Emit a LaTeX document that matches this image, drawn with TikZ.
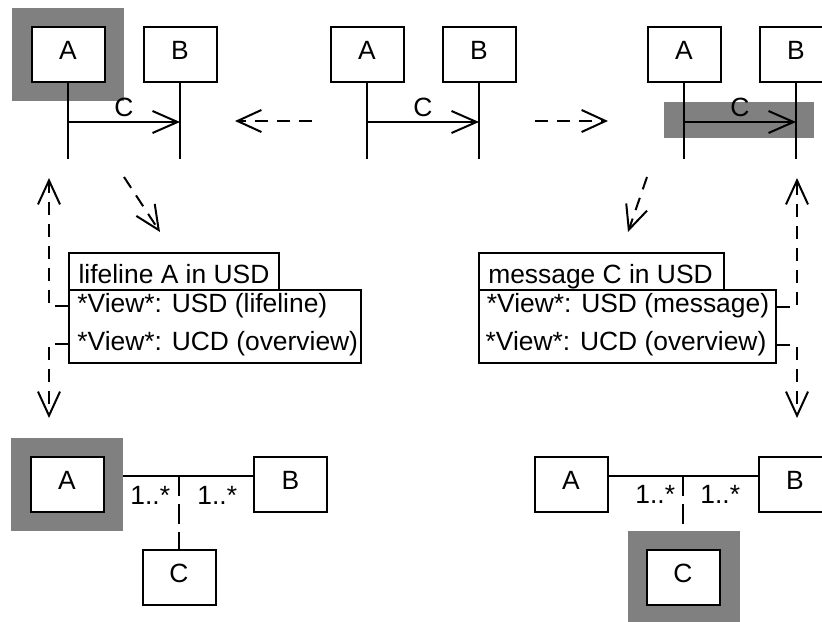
\documentclass[tikz,border=0pt]{standalone}
\usepackage{fontspec}
\setmainfont{Liberation Sans}
\usetikzlibrary{arrows.meta,calc}
\definecolor{hlgrey}{RGB}{128,128,128}
\begin{document}
\begin{tikzpicture}[x=0.5pt,y=-0.5pt,
  every node/.style={font=\fontsize{13.2}{15.8}\selectfont},
  box/.style={draw, line width=1pt, fill=white, minimum width=36.5pt,
    minimum height=27.5pt, inner sep=0pt, text depth=3.8pt},
  hl/.style={fill=hlgrey, draw=none, minimum width=56pt, minimum height=46.5pt, inner sep=0pt},
  life/.style={line width=1pt},
  msg/.style={line width=1pt, -{Straight Barb[length=12.5pt,width=11pt]}},
  dep/.style={line width=1pt, dash pattern=on 6.5pt off 4.5pt,
    -{Straight Barb[length=12pt,width=11pt]}},
  acls/.style={line width=1pt, dash pattern=on 10pt off 4pt},
  assoc/.style={line width=1pt},
  notebox/.style={draw, fill=white, line width=1pt, inner sep=0pt, anchor=north west},
  mult/.style={anchor=base west, inner sep=0pt}
]
\useasboundingbox (0,0) rectangle (822,621);
\clip (0,0) rectangle (822,621);

% ---------- sequence diagram, lifeline A selected ----------
\node[hl] (hlA1) at (68,54.5) {};
\node[box] (sA1) at (68,54.5) {A};
\node[box] (sB1) at (180,54.5) {B};
\draw[life] (sA1.south) -- ++(0,76);
\draw[life] (sB1.south) -- ++(0,76);
\draw[msg] ($(sA1.south)+(0,39)$) -- ($(sB1.south)+(0,39)$);
\node[anchor=base, inner sep=0pt] (cm1) at ($(sA1.south)!0.5!(sB1.south)+(0,33)$) {C};

% ---------- sequence diagram, nothing selected ----------
\node[box] (sA2) at (367,54.5) {A};
\node[box] (sB2) at (479,54.5) {B};
\draw[life] (sA2.south) -- ++(0,76);
\draw[life] (sB2.south) -- ++(0,76);
\draw[msg] ($(sA2.south)+(0,39)$) -- ($(sB2.south)+(0,39)$);
\node[anchor=base, inner sep=0pt] (cm2) at ($(sA2.south)!0.5!(sB2.south)+(0,33)$) {C};

% ---------- sequence diagram, message C selected ----------
\node[hl, minimum width=75pt, minimum height=18pt] (hlC1) at (739,120) {};
\node[box] (sA3) at (684,54.5) {A};
\node[box] (sB3) at (796,54.5) {B};
\draw[life] (sA3.south) -- ++(0,76);
\draw[life] (sB3.south) -- ++(0,76);
\draw[msg] ($(sA3.south)+(0,39)$) -- ($(sB3.south)+(0,39)$);
\node[anchor=base, inner sep=0pt] (cm3) at ($(sA3.south)!0.5!(sB3.south)+(0,33)$) {C};

% ---------- transitions between the sequence diagrams ----------
\coordinate (t1s) at (312,121);
\coordinate (t1e) at (235,121);
\coordinate (t2s) at (535,121);
\coordinate (t2e) at (608,121);
\draw[dep] (t1s) -- (t1e);
\draw[dep] (t2s) -- (t2e);

% ---------- view notes ----------
\node[notebox, minimum width=105pt, minimum height=18.5pt] (tab1) at (68,252) {};
\node[anchor=base, inner sep=0pt] (tab1t) at (174,283) {lifeline A in USD};
\node[notebox, minimum width=146pt, minimum height=36.5pt] (note1) at (68,289) {};
\node[anchor=base west, inner sep=0pt] (n1a) at (77,312) {*View*: USD (lifeline)};
\node[anchor=base west, inner sep=0pt] (n1b) at (77,350) {*View*: UCD (overview)};

\node[notebox, minimum width=122.5pt, minimum height=18.5pt] (tab2) at (478,252) {};
\node[anchor=base, inner sep=0pt] (tab2t) at (600.5,283) {message C in USD};
\node[notebox, minimum width=148.5pt, minimum height=36.5pt] (note2) at (478,289) {};
\node[anchor=base, inner sep=0pt] (n2a) at (628,312) {*View*: USD (message)};
\node[anchor=base, inner sep=0pt] (n2b) at (626,350) {*View*: UCD (overview)};

% ---------- navigation connectors ----------
\coordinate (d1s) at (124,177);
\coordinate (d1e) at (160,232);
\coordinate (d2s) at (647,177);
\coordinate (d2e) at (628,232);
\draw[dep] (d1s) -- (d1e);
\draw[dep] (d2s) -- (d2e);

\coordinate (up1) at (49,178);
\coordinate (dn1) at (49,418);
\coordinate (up2) at (797,178);
\coordinate (dn2) at (797,418);
\draw[dep] ($(note1.north west)+(0,17)$) -| (up1);
\draw[dep] ($(note1.north west)+(0,55)$) -| (dn1);
\draw[dep] ($(note2.north east)+(0,18)$) -| (up2);
\draw[dep] ($(note2.north east)+(0,56)$) -| (dn2);

% ---------- class diagram, class A selected ----------
\node[hl] (hlA2) at (67,484.5) {};
\node[box] (cA1) at (67,484) {A};
\node[box] (cB1) at (290.5,484) {B};
\node[box] (cC1) at (179,577.5) {C};
\coordinate (j1) at (179,476);
\draw[assoc] (hlA2.east |- j1) -- (cB1.west |- j1);
\draw[acls] (j1) -- (cC1.north);
\node[mult] (m1a) at (130,504) {1..*};
\node[mult] (m1b) at (197,504) {1..*};

% ---------- class diagram, association class C selected ----------
\node[box] (cA2) at (571,484) {A};
\node[box] (cB2) at (795,484) {B};
\node[hl] (hlC2) at (683.5,577.5) {};
\node[box] (cC2) at (683,577.5) {C};
\coordinate (j2) at (683,476);
\draw[assoc] (cA2.east |- j2) -- (cB2.west |- j2);
\draw[acls] (j2) -- (hlC2.north -| j2);
\node[mult] (m2a) at (635,503) {1..*};
\node[mult] (m2b) at (700,503) {1..*};
\end{tikzpicture}
\end{document}
